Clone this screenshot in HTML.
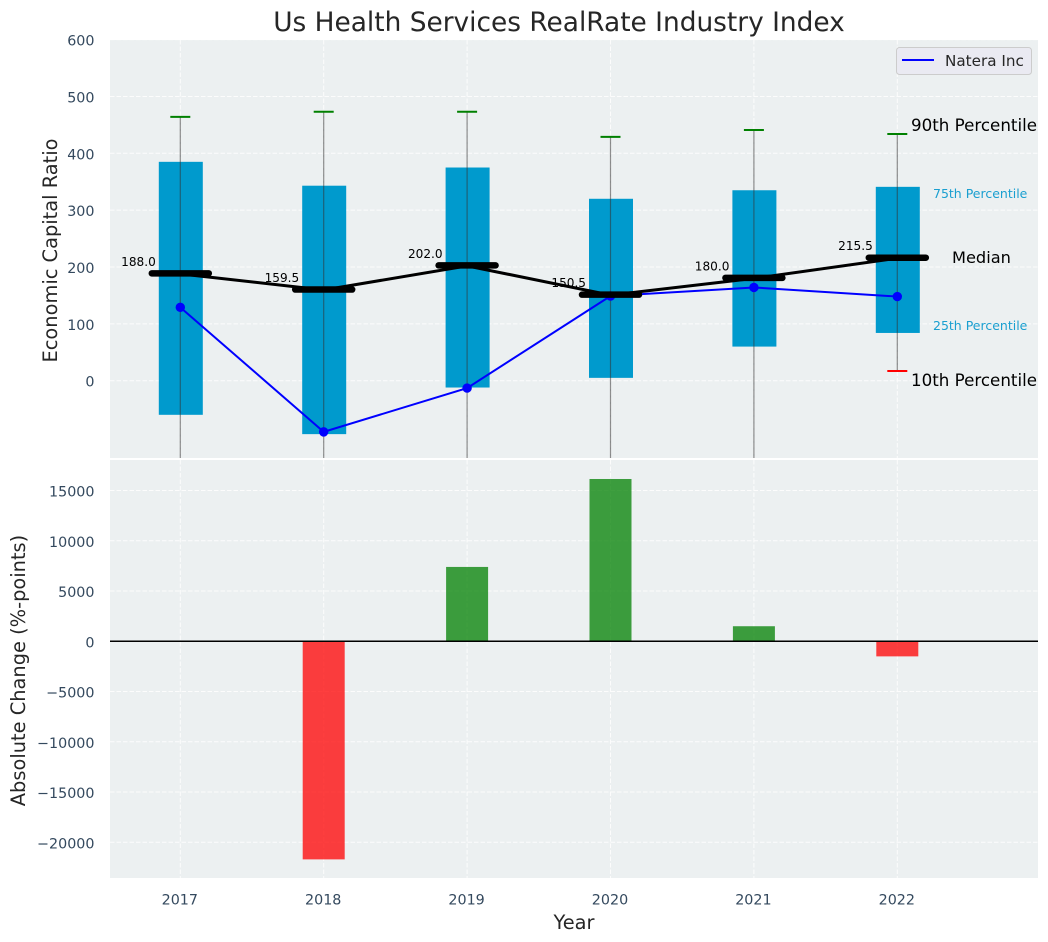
<!DOCTYPE html>
<html lang="en">
<head>
<meta charset="utf-8">
<title>Us Health Services RealRate Industry Index</title>
<style>
html,body{margin:0;padding:0;background:#fff;}
svg{display:block;font-family:"DejaVu Sans","Liberation Sans",sans-serif;}
</style>
</head>
<body>
<svg id="chart" xmlns="http://www.w3.org/2000/svg" width="1048" height="942" viewBox="0 0 1048 942">
  <defs>
    <clipPath id="top-clip"><rect x="110" y="40" width="928" height="418"/></clipPath>
    <clipPath id="bottom-clip"><rect x="110" y="460" width="928" height="418"/></clipPath>
  </defs>
  <rect x="0" y="0" width="1048" height="942" fill="#ffffff"/>
  <rect x="110" y="40" width="928" height="418" fill="#ecf0f1"/>
  <rect x="110" y="460" width="928" height="418" fill="#ecf0f1"/>
  <g id="top-grid" clip-path="url(#top-clip)" opacity="0.85"></g>
  <g id="bottom-grid" clip-path="url(#bottom-clip)" opacity="0.85"></g>
  <g id="top-marks" clip-path="url(#top-clip)"></g>
  <g id="bottom-marks" clip-path="url(#bottom-clip)"></g>
  <g id="tick-labels" font-size="14.3" fill="#34495e"></g>
  <g id="median-labels" font-size="12.1" fill="#000000"></g>

  <text x="559" y="31" text-anchor="middle" font-size="26.4" fill="#262626">Us Health Services RealRate Industry Index</text>
  <text transform="translate(57,250.5) rotate(-90)" text-anchor="middle" font-size="19.4" fill="#262626">Economic Capital Ratio</text>
  <text transform="translate(25,670.5) rotate(-90)" text-anchor="middle" font-size="19.4" fill="#262626">Absolute Change (%-points)</text>
  <text x="574" y="929" text-anchor="middle" font-size="19.4" fill="#262626">Year</text>

  <text x="911" y="131" font-size="16.7" fill="#000000">90th Percentile</text>
  <text x="933" y="198" font-size="12.5" fill="#1a9fd0">75th Percentile</text>
  <text x="952" y="263" font-size="16.2" fill="#000000">Median</text>
  <text x="933" y="330" font-size="12.5" fill="#1a9fd0">25th Percentile</text>
  <text x="911" y="386" font-size="16.7" fill="#000000">10th Percentile</text>

  <g>
    <rect x="896.5" y="47.5" width="135" height="27" rx="3" fill="#eaeaf2" stroke="#cccccc" stroke-width="1"/>
    <line x1="902" y1="60" x2="934" y2="60" stroke="#0000ff" stroke-width="2"/>
    <text x="945" y="66" font-size="15.2" fill="#262626">Natera Inc</text>
  </g>

<script>
const years = ['2017', '2018', '2019', '2020', '2021', '2022'];
const p90 = [464, 473, 473, 429, 441, 434];
const p75 = [385, 343, 375, 320, 335, 341];
const medians = [188.0, 159.5, 202.0, 150.5, 180.0, 215.5];
const medianLabels = ['188.0', '159.5', '202.0', '150.5', '180.0', '215.5'];
const p25 = [-60, -94, -12, 5, 60, 84];
const p10 = [-240, -260, -190, -200, -180, 17];
const natera = [129, -90, -13, 149, 164, 148];
const changes = [0, -21700, 7400, 16150, 1500, -1500];
const topTicks = [0, 100, 200, 300, 400, 500, 600];
const bottomTicks = [-20000, -15000, -10000, -5000, 0, 5000, 10000, 15000];

const NS = 'http://www.w3.org/2000/svg';
const xPos = i => 180.3 + 143.4 * i;
const yTop = v => 380.7 - 0.5685 * v;
const yBottom = v => 641.3 - 0.01005 * v;

function make(tag, parent, attrs) {
  const el = document.createElementNS(NS, tag);
  for (const k in attrs) el.setAttribute(k, attrs[k]);
  parent.appendChild(el);
  return el;
}

const topGrid = document.getElementById('top-grid');
const bottomGrid = document.getElementById('bottom-grid');
const topMarks = document.getElementById('top-marks');
const bottomMarks = document.getElementById('bottom-marks');
const tickLabels = document.getElementById('tick-labels');
const medLabels = document.getElementById('median-labels');
const gridStyle = {stroke: '#ffffff', 'stroke-width': 1, 'stroke-dasharray': '4.5 2'};

topTicks.forEach(t => {
  const y = yTop(t);
  const g = make('line', topGrid, Object.assign({x1: 110, x2: 1038, y1: y, y2: y}, gridStyle));
  
  
  const l = make('text', tickLabels, {x: 94.5, y: y + 6, 'text-anchor': 'end'});
  l.textContent = String(t);
  
  
});

bottomTicks.forEach(t => {
  const y = yBottom(t);
  const g = make('line', bottomGrid, Object.assign({x1: 110, x2: 1038, y1: y, y2: y}, gridStyle));
  
  
  const l = make('text', tickLabels, {x: 94.5, y: y + 6, 'text-anchor': 'end'});
  l.textContent = String(t).replace('-', '\u2212');
  
  
});

years.forEach((yr, i) => {
  const x = xPos(i);
  const g1 = make('line', topGrid, Object.assign({x1: x, x2: x, y1: 40, y2: 458}, gridStyle));
  
  
  const g2 = make('line', bottomGrid, Object.assign({x1: x, x2: x, y1: 460, y2: 878}, gridStyle));
  
  
  const l = make('text', tickLabels, {x: x - 0.5, y: 904.5, 'text-anchor': 'middle'});
  l.textContent = yr;
  
  
});

years.forEach((yr, i) => {
  const x = xPos(i);
  const box = make('rect', topMarks, {x: x - 21.5, y: yTop(p75[i]), width: 44, height: yTop(p25[i]) - yTop(p75[i]), fill: '#009acd'});
  
  
});

years.forEach((yr, i) => {
  const x = xPos(i);
  const w = make('line', topMarks, {x1: x, x2: x, y1: yTop(p90[i]), y2: yTop(p10[i]), stroke: '#333333', 'stroke-opacity': 0.55, 'stroke-width': 1.2});
  
  
  const c1 = make('line', topMarks, {x1: x - 10, x2: x + 10, y1: yTop(p90[i]), y2: yTop(p90[i]), stroke: '#008000', 'stroke-width': 2});
  
  
  const c2 = make('line', topMarks, {x1: x - 10, x2: x + 10, y1: yTop(p10[i]), y2: yTop(p10[i]), stroke: '#ff0000', 'stroke-width': 2});
  
  
});

const blue = make('polyline', topMarks, {points: natera.map((v, i) => xPos(i) + ',' + yTop(v)).join(' '), fill: 'none', stroke: '#0000ff', 'stroke-width': 2});


natera.forEach((v, i) => {
  const p = make('circle', topMarks, {cx: xPos(i), cy: yTop(v), r: 4.7, fill: '#0000ff'});
  
  
});

const medLine = make('polyline', topMarks, {points: medians.map((v, i) => xPos(i) + ',' + yTop(v)).join(' '), fill: 'none', stroke: '#000000', 'stroke-width': 3});


medians.forEach((v, i) => {
  const x = xPos(i);
  const y = yTop(v);
  const m = make('line', topMarks, {x1: x - 28.5, x2: x + 28.5, y1: y - 0.5, y2: y - 0.5, stroke: '#000000', 'stroke-width': 6.5, 'stroke-linecap': 'round'});
  
  
  const l = make('text', medLabels, {x: x - 24.5, y: y - 8, 'text-anchor': 'end'});
  l.textContent = medianLabels[i];
  
  
});

changes.forEach((v, i) => {
  const y0 = yBottom(0);
  const y1 = yBottom(v);
  const b = make('rect', bottomMarks, {x: xPos(i) - 21, y: Math.min(y0, y1), width: 42, height: Math.abs(y1 - y0), fill: v < 0 ? 'rgba(255,0,0,0.75)' : 'rgba(0,128,0,0.75)'});
  
  
});
const zero = make('line', bottomMarks, {x1: 110, x2: 1038, y1: yBottom(0), y2: yBottom(0), stroke: '#000000', 'stroke-width': 1.5});


</script>
</svg>
</body>
</html>
